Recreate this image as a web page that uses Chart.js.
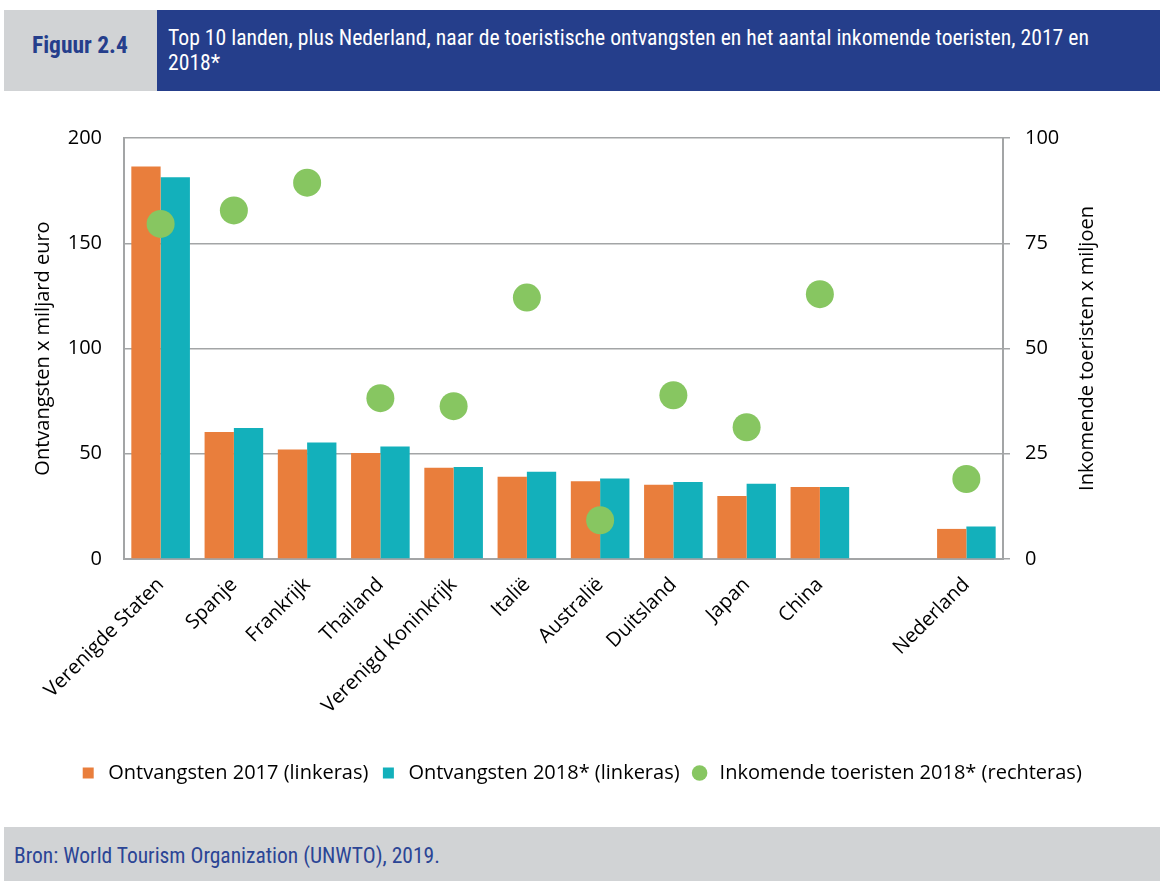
<!DOCTYPE html>
<html lang="nl">
<head>
<meta charset="utf-8">
<title>Figuur 2.4</title>
<script src="https://cdn.jsdelivr.net/npm/chart.js@4.4.1/dist/chart.umd.min.js"></script>
<style>
    body {
        margin: 0;
        width: 1160px;
        height: 881px;
        background: #ffffff;
        position: relative;
        overflow: hidden;
        font-family: "Liberation Sans Narrow", "Roboto Condensed", "DejaVu Sans Condensed", sans-serif;
    }
    .figlabel {
        position: absolute;
        left: 4px;
        top: 10px;
        width: 153px;
        height: 81px;
        background: #d1d3d5;
        color: #253e8c;
        font-weight: bold;
        font-size: 23.5px;
        box-sizing: border-box;
        padding: 21px 0 0 28px;
    }
    .figtitle {
        position: absolute;
        left: 157px;
        top: 10px;
        width: 1003px;
        height: 81px;
        background: #253e8b;
        color: #ffffff;
        font-size: 21.7px;
        line-height: 25px;
        box-sizing: border-box;
        padding: 15px 0 0 11px;
        white-space: nowrap;
    }
    .source {
        position: absolute;
        left: 4px;
        top: 827px;
        width: 1156px;
        height: 54px;
        background: #d1d3d5;
        color: #2b4595;
        font-size: 21.5px;
        box-sizing: border-box;
        padding: 16px 0 0 10px;
    }
    #wrap {
        position: absolute;
        left: 0;
        top: 100px;
        width: 1160px;
        height: 693px;
    }
</style>
</head>
<body>
<div class="figlabel">Figuur 2.4</div>
<div class="figtitle">Top 10 landen, plus Nederland, naar de toeristische ontvangsten en het aantal inkomende toeristen, 2017 en<br>2018*</div>
<div id="wrap"><canvas id="chart"></canvas></div>
<div class="source">Bron: World Tourism Organization (UNWTO), 2019.</div>

<script>
// landen; lege plek tussen China en Nederland
const landen = ["Verenigde Staten", "Spanje", "Frankrijk", "Thailand", "Verenigd Koninkrijk",
    "Italië", "Australië", "Duitsland", "Japan", "China", "", "Nederland"];

// ontvangsten x miljard euro (linkeras)
const ontvangsten2017 = [186.5, 60.3, 52.0, 50.4, 43.4, 39.1, 36.9, 35.3, 29.9, 34.2, null, 14.3];
const ontvangsten2018 = [181.3, 62.2, 55.3, 53.5, 43.7, 41.5, 38.2, 36.6, 35.8, 34.2, null, 15.4];

// inkomende toeristen x miljoen (rechteras)
const toeristen2018 = [79.6, 82.8, 89.4, 38.2, 36.3, 62.1, 9.2, 38.9, 31.3, 62.9, null, 19.0];

const linkerTicks = [0, 50, 100, 150, 200];
const rechterTicks = [0, 25, 50, 75, 100];

const grijs = "#a3a5a6";
const tekstFont = { family: "'Open Sans', 'Noto Sans', sans-serif", size: 20 };
const rechterTitel = "Inkomende toeristen x miljoen";

// titel van de rechteras, van onder naar boven gelezen (zoals de linkeras)
const rechterTitelPlugin = {
    id: "rechterTitel",
    afterDraw: function (chart) {
        const ctx = chart.ctx;
        const area = chart.chartArea;
        ctx.save();
        ctx.translate(1087, (area.top + area.bottom) / 2);
        ctx.rotate(-Math.PI / 2);
        ctx.font = tekstFont.size + "px " + tekstFont.family;
        ctx.fillStyle = "#000000";
        ctx.textAlign = "center";
        ctx.textBaseline = "middle";
        ctx.fillText(rechterTitel, 0, 0);
        ctx.restore();
    }
};

new Chart(document.getElementById("chart").getContext("2d"), {
    type: "bar",
    data: {
        labels: landen,
        datasets: [
            {
                label: "Ontvangsten 2017 (linkeras)",
                data: ontvangsten2017,
                backgroundColor: "#e97e3c",
                yAxisID: "y",
                order: 2,
                pointStyle: "rect",
                categoryPercentage: 0.8,
                barPercentage: 1.0,
            },
            {
                label: "Ontvangsten 2018* (linkeras)",
                data: ontvangsten2018,
                backgroundColor: "#13b0bb",
                yAxisID: "y",
                order: 2,
                pointStyle: "rect",
                categoryPercentage: 0.8,
                barPercentage: 1.0,
            },
            {
                type: "line",
                label: "Inkomende toeristen 2018* (rechteras)",
                data: toeristen2018,
                yAxisID: "y1",
                showLine: false,
                pointStyle: "circle",
                pointRadius: 14,
                pointBorderWidth: 0,
                backgroundColor: "#87c661",
                borderColor: "#87c661",
                order: 1,
            }
        ]
    },
    options: {
        animation: false,
        responsive: true,
        maintainAspectRatio: false,
        layout: {
            padding: { top: 38, left: 0, right: 0, bottom: 0 }
        },
        scales: {
            x: {
                grid: { display: false },
                border: { display: true, color: grijs, width: 2 },
                ticks: {
                    color: "#000000",
                    font: tekstFont,
                    maxRotation: 45,
                    minRotation: 45,
                    autoSkip: false,
                    padding: 6,
                },
                afterFit: function (scale) {
                    scale.height = 194;
                }
            },
            y: {
                position: "left",
                min: 0,
                max: 200,
                afterBuildTicks: function (scale) {
                    scale.ticks = linkerTicks.map(v => ({ value: v }));
                },
                grid: {
                    color: grijs,
                    lineWidth: 1.5,
                    drawTicks: false,
                },
                border: { display: true, color: grijs, width: 2 },
                ticks: {
                    color: "#000000",
                    font: tekstFont,
                    padding: 22,
                },
                title: {
                    display: true,
                    text: "Ontvangsten x miljard euro",
                    color: "#000000",
                    font: tekstFont,
                    padding: { top: 31, bottom: 0 },
                },
                afterFit: function (scale) {
                    scale.width = 124;
                }
            },
            y1: {
                position: "right",
                min: 0,
                max: 100,
                afterBuildTicks: function (scale) {
                    scale.ticks = rechterTicks.map(v => ({ value: v }));
                },
                grid: {
                    drawOnChartArea: false,
                    drawTicks: true,
                    tickLength: 7,
                    color: grijs,
                    lineWidth: 1.5,
                },
                border: { display: true, color: grijs, width: 2 },
                ticks: {
                    color: "#000000",
                    font: tekstFont,
                    padding: 15,
                },
                afterFit: function (scale) {
                    scale.width = 157;
                }
            }
        },
        plugins: {
            legend: {
                position: "bottom",
                labels: {
                    usePointStyle: true,
                    boxHeight: 11,
                    padding: 10,
                    color: "#000000",
                    font: tekstFont,
                    sort: (a, b) => a.datasetIndex - b.datasetIndex,
                }
            },
            tooltip: { enabled: false }
        }
    },
    plugins: [rechterTitelPlugin]
});
</script>
</body>
</html>
